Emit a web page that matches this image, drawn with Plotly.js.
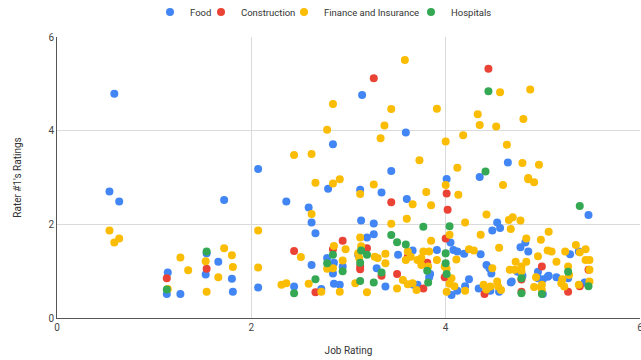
<!DOCTYPE html>
<html>
<head>
<meta charset="utf-8">
<script src="https://cdn.plot.ly/plotly-3.0.1.min.js"></script>
<style>html,body{margin:0;padding:0;background:#fff;}#chart{width:641px;height:360px;}</style>
</head>
<body>
<div id="chart"></div>
<script>
// Food
const foodX = [0.54,0.64,0.59,1.72,2.07,1.54,1.53,1.66,1.80,1.81,1.14,1.13,1.27,2.07,
  3.14,2.84,3.59,3.44,4.64,4.01,4.35,
  2.79,2.36,2.59,2.62,2.66,2.62,2.44,2.72,2.78,2.94,2.84,2.85,2.91,2.85,
  3.12,3.34,3.60,3.13,3.26,3.26,3.19,3.66,3.91,3.51,3.10,3.29,3.38,3.67,3.83,3.84,3.71,
  4.05,4.08,4.12,4.19,4.36,4.53,4.48,4.56,4.42,4.45,4.47,4.74,4.79,4.95,5.00,5.05,4.24,4.20,4.12,4.06,4.34,4.46,4.55,4.67,5.00,
  4.82,4.77,4.85,5.47,5.37,5.28,4.95,5.06,5.14,5.26,5.43,4.68];
const foodY = [2.70,2.49,4.79,2.52,3.18,1.38,0.93,1.20,0.84,0.56,0.97,0.51,0.51,0.65,
  4.76,3.71,3.96,3.14,3.32,2.97,3.01,
  2.76,2.49,2.36,2.04,1.81,1.13,0.67,0.62,1.28,1.10,0.95,0.73,0.71,1.18,
  2.74,2.68,2.54,2.08,2.02,1.79,1.72,1.44,1.45,1.35,1.35,1.06,0.67,0.71,0.87,0.94,0.71,
  1.61,1.45,1.42,1.37,1.36,2.04,1.87,1.92,1.13,1.06,0.95,0.99,0.90,0.99,0.83,0.88,0.83,0.68,0.58,0.49,0.63,0.58,0.56,0.76,0.51,
  1.61,1.51,1.42,2.20,1.42,1.36,0.85,0.90,0.87,0.85,0.76,0.78];

// Construction
const consX = [1.54,1.13,3.26,4.44,2.44,2.66,2.94,2.84,3.44,4.02,4.01,4.00,3.19,3.12,3.12,3.34,3.50,3.81,3.77,3.99,4.40,4.99,5.47,4.78,4.78,5.26,5.38,3.61];
const consY = [1.05,0.85,5.12,5.32,1.43,0.55,1.65,1.47,2.47,2.31,2.66,1.70,1.49,1.10,1.04,0.90,0.94,1.18,0.63,0.87,0.51,1.10,1.03,0.82,0.56,0.56,0.68,1.30];

// Finance and Insurance
const finX = [0.54,0.64,0.59,2.07,1.27,1.35,1.53,1.72,1.80,1.81,1.66,1.54,1.14,2.07,
  2.84,2.78,2.44,2.62,3.33,
  3.58,4.56,4.87,3.44,3.91,4.33,4.35,4.52,4.80,3.37,4.00,4.18,4.63,3.73,4.12,4.79,4.96,4.85,
  2.66,2.84,2.91,2.62,2.51,2.31,2.36,2.59,2.72,2.85,2.97,2.94,2.78,2.84,2.91,
  3.12,3.26,3.66,3.80,3.85,4.00,3.60,3.44,
  3.12,3.85,3.61,3.77,3.83,3.13,3.10,3.38,3.27,3.30,3.11,3.64,3.59,3.38,3.71,3.75,3.91,3.75,3.82,3.07,3.56,3.61,3.66,3.70,3.50,3.19,
  4.59,4.85,4.91,4.13,4.42,4.20,4.65,4.69,4.77,4.67,4.04,4.36,4.83,4.98,5.06,4.55,4.24,4.29,4.11,4.95,5.05,5.09,3.99,4.72,4.78,4.83,4.66,4.71,4.48,4.93,4.01,4.06,4.04,4.09,4.01,4.20,4.39,4.42,4.46,4.53,4.54,4.57,4.91,4.98,4.99,4.99,
  5.34,5.44,5.23,5.38,5.14,5.44,5.48,5.26,5.48,5.27,5.20,5.19,5.22,5.37,5.48,4.78];
const finY = [1.87,1.70,1.61,1.87,1.29,1.02,1.21,1.49,1.34,1.09,0.87,0.56,0.62,1.08,
  4.57,4.02,3.48,3.50,3.84,
  5.51,4.82,4.88,4.46,4.47,4.35,4.12,4.09,4.25,4.11,3.77,3.90,3.70,3.37,3.21,3.31,3.27,2.99,
  2.89,2.87,2.96,2.22,1.30,0.71,0.74,0.73,0.56,1.54,1.47,1.23,1.05,1.06,0.56,
  2.65,2.85,2.43,2.69,2.41,2.84,2.12,2.01,
  1.72,1.65,1.42,1.42,1.42,1.53,1.38,1.37,1.31,1.28,1.28,1.31,1.24,1.17,1.24,1.28,1.24,1.13,1.10,0.74,0.81,0.72,0.74,0.60,0.63,0.55,
  2.84,2.96,2.90,2.63,2.21,2.04,2.09,2.15,2.08,1.90,1.78,1.78,1.70,1.67,1.84,1.50,1.47,1.44,1.25,1.32,1.44,1.42,1.10,1.20,1.10,1.20,1.03,1.03,1.06,0.87,1.05,0.85,0.73,0.68,0.56,0.58,0.71,0.61,0.67,0.78,0.67,0.60,0.66,0.66,0.71,0.60,
  1.56,1.47,1.42,1.40,1.20,1.24,1.24,1.10,1.03,0.92,0.83,0.74,0.67,0.71,0.78,1.00];

// Hospitals
const hospX = [1.54,1.13,4.44,4.41,2.44,2.66,2.84,2.78,2.94,3.77,3.44,3.50,3.59,3.13,3.19,3.12,3.34,3.12,3.26,4.04,4.00,4.00,3.81,4.01,3.82,4.78,4.78,4.99,5.38,5.26,5.47];
const hospY = [1.42,0.61,4.84,3.13,0.53,0.83,1.35,1.17,1.00,1.95,1.77,1.62,1.57,1.44,1.35,1.18,0.97,0.79,0.76,1.96,1.38,1.17,1.01,0.94,0.76,0.85,0.53,0.51,2.39,0.99,0.68];

const seriesNames = ['Food','Construction','Finance and Insurance','Hospitals'];
const seriesColors = ['#4285F4','#EA4335','#FBBC04','#34A853'];
const xs = [foodX, consX, finX, hospX];
const ys = [foodY, consY, finY, hospY];
const legendIds = ['legend','legend2','legend3','legend4'];
const legendLeftPx = [150, 201, 284, 411];

const traces = seriesNames.map((n,i)=>({
  type:'scatter', mode:'markers', name:n, x:xs[i], y:ys[i], legend:legendIds[i],
  marker:{color:seriesColors[i], size:8, line:{width:0}}
}));

const layout = {
  width:641, height:360,
  margin:{l:57, r:1, t:37, b:42},
  paper_bgcolor:'#fff', plot_bgcolor:'#fff',
  font:{family:'Roboto, Arial, sans-serif', size:10, color:'#444'},
  showlegend:true,
  xaxis:{range:[0,6], tickvals:[0,2,4,6], ticktext:['0','2','4','6'], showgrid:true, gridcolor:'#dadada',
         zeroline:false, showline:true, linecolor:'#555', linewidth:1, ticks:'', ticklen:0,
         ticklabeloverflow:'allow',
         tickfont:{size:10,color:'#444'},
         title:{text:'Job Rating', font:{size:10,color:'#333'}, standoff:14}},
  yaxis:{range:[0,6], tickvals:[0,2,4,6], ticktext:['0','2','4','6'], showgrid:true, gridcolor:'#dadada',
         zeroline:false, showline:true, linecolor:'#555', linewidth:1, ticks:'',
         tickfont:{size:10,color:'#444'},
         title:{text:"Rater #1's Ratings", font:{size:10,color:'#333'}, standoff:24}}
};
legendIds.forEach((id,i)=>{
  layout[id] = {orientation:'h', x:legendLeftPx[i]/641, xanchor:'left', xref:'container',
                y:1-12/360, yanchor:'middle', yref:'container',
                font:{size:9.5, color:'#333'}, bgcolor:'rgba(0,0,0,0)'};
});
Plotly.newPlot('chart', traces, layout, {displayModeBar:false, staticPlot:true});
</script>
</body>
</html>
